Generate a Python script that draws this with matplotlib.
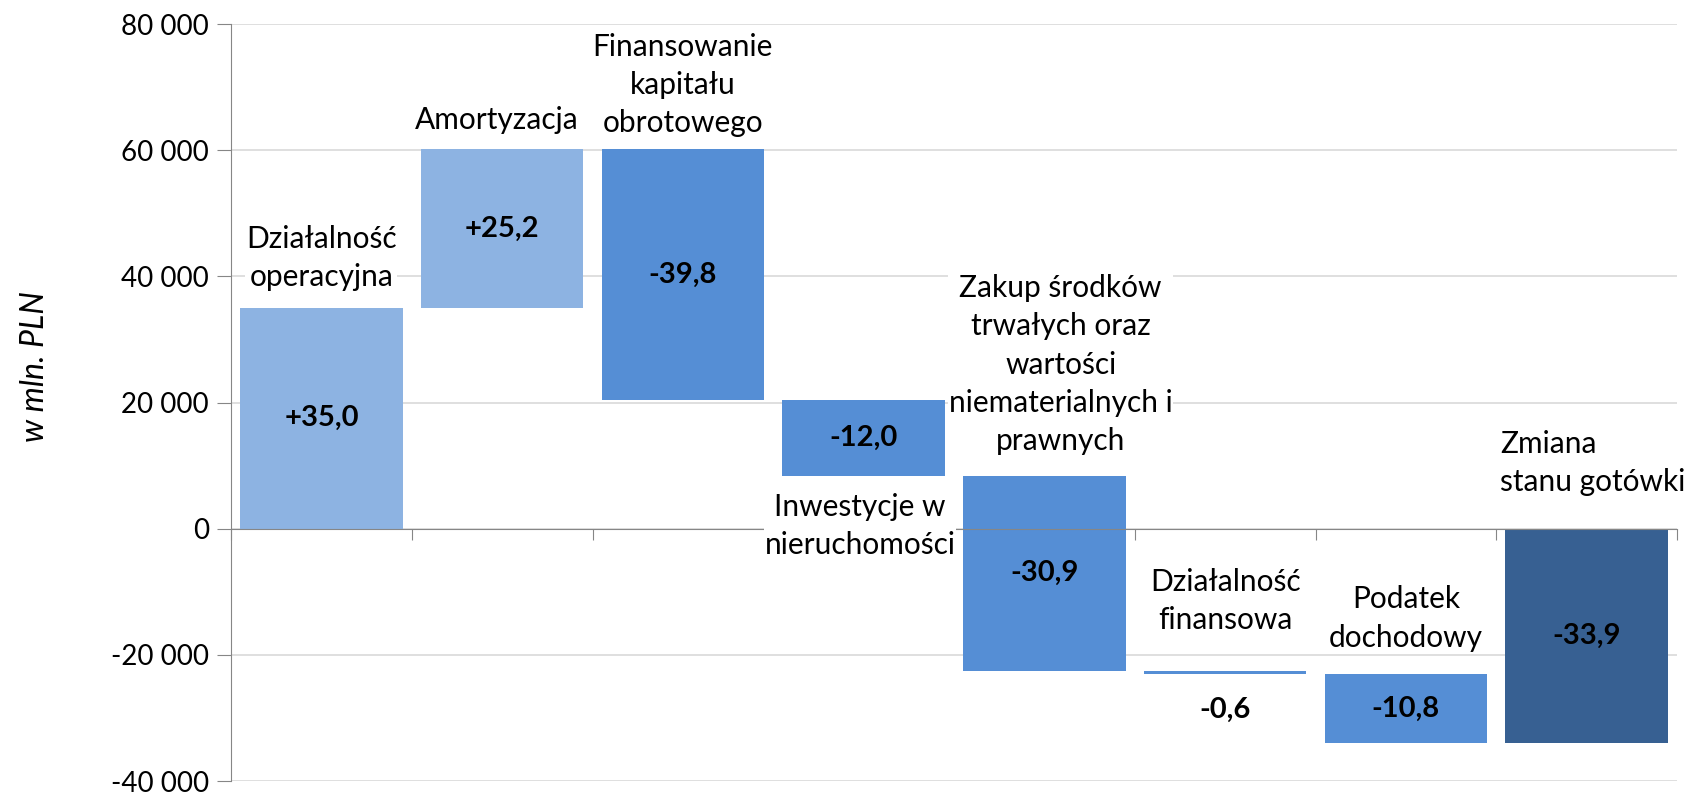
import matplotlib
matplotlib.use('Agg')
import matplotlib.pyplot as plt
from matplotlib.ticker import FuncFormatter, FixedLocator
import numpy as np

plt.rcParams['font.family'] = ['Lato', 'DejaVu Sans']

# waterfall data (w mln. PLN)
categories = ['Działalność\noperacyjna', 'Amortyzacja', 'Finansowanie\nkapitału\nobrotowego',
              'Inwestycje w\nnieruchomości',
              'Zakup środków\ntrwałych oraz\nwartości\nniematerialnych i\nprawnych',
              'Działalność\nfinansowa', 'Podatek\ndochodowy', 'Zmiana\nstanu gotówki']
changes = [35000, 25200, -39800, -12000, -30900, -600, -10800]
total = -33900
value_labels = ['+35,0', '+25,2', '-39,8', '-12,0', '-30,9', '-0,6', '-10,8', '-33,9']
bar_colors = ['#8DB3E2', '#8DB3E2', '#558ED5', '#558ED5', '#558ED5', '#558ED5', '#558ED5', '#376092']
# where the category names sit (label centre, data units) and small x nudges
name_y = [42930, 64790, 70330, 400, 25980, -11480, -14260, 10380]
name_dx = [0, -0.03, 0, -0.02, 0.09, 0, 0, -0.48]

ends = np.cumsum(changes)
starts = ends - np.array(changes)
bottoms = list(starts) + [0]
heights = list(changes) + [total]
x = np.arange(len(categories))

fig = plt.figure(figsize=(16.92, 7.92), dpi=100)
ax = fig.add_axes([231/1692, 11/792, 1446/1692, 757/792])

ax.bar(x, heights, bottom=bottoms, width=0.9, color=bar_colors, zorder=2)

for i in range(len(categories)):
    mid = bottoms[i] + heights[i] / 2
    if abs(heights[i]) < 2000:
        mid = bottoms[i] + heights[i] - 5700
    ax.text(x[i], mid, value_labels[i], ha='center', va='center',
            fontsize=21, fontweight='bold', zorder=4)
    al = 'left' if i == len(categories) - 1 else 'center'
    ax.text(x[i] + name_dx[i], name_y[i], categories[i],
            ha=al, va='center', multialignment=al, fontsize=21.5, linespacing=1.45,
            bbox=dict(facecolor='white', edgecolor='none', pad=0.5), zorder=3)

ax.set_xlim(-0.5, len(categories) - 0.5)
ax.set_ylim(-40000, 80000)
ax.set_yticks(np.arange(-40000, 80001, 20000))
ax.yaxis.set_major_formatter(FuncFormatter(lambda v, p: f'{v:,.0f}'.replace(',', ' ')))
ax.xaxis.set_major_locator(FixedLocator(np.arange(-0.5, len(categories), 1.0)))
ax.set_xticklabels([])
ax.grid(True, axis='y', color='#D9D9D9', lw=1.2, zorder=0)
ax.set_axisbelow(True)

for s in ['top', 'right']:
    ax.spines[s].set_visible(False)
ax.spines['bottom'].set_position(('data', 0))
ax.spines['bottom'].set_color('#868686')
ax.spines['left'].set_color('#868686')
ax.spines['bottom'].set_zorder(2.5)
ax.tick_params(axis='y', length=10, color='#868686', labelsize=20, pad=6)
ax.tick_params(axis='x', length=8, color='#868686', direction='out')

ax.set_ylabel('w mln. PLN', fontsize=23, style='italic')
ax.yaxis.set_label_coords(-0.125, 0.548)

fig.savefig('out.png', dpi=100)
